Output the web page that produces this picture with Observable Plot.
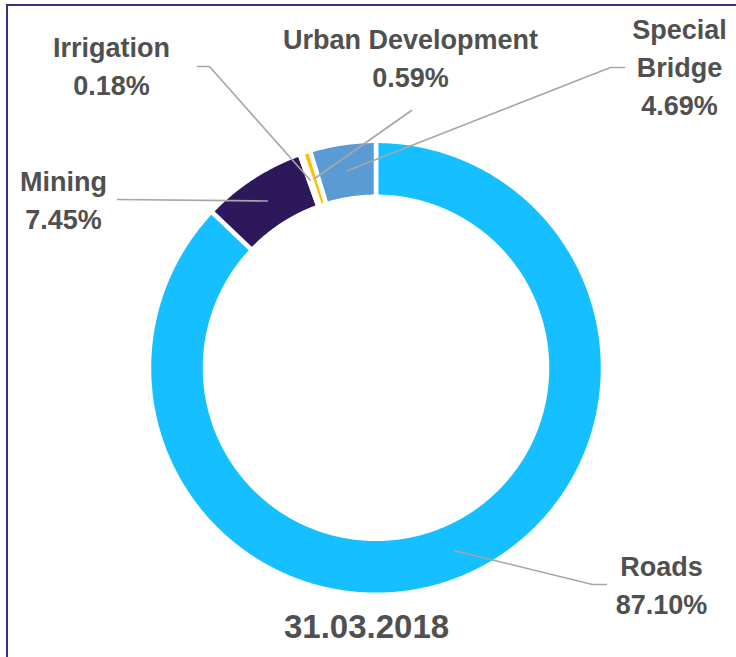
<!DOCTYPE html>
<html>
<head>
<meta charset="utf-8">
<script src="https://cdn.jsdelivr.net/npm/d3@7"></script>
<script src="https://cdn.jsdelivr.net/npm/@observablehq/plot@0.6"></script>
<style>
  html, body { margin: 0; padding: 0; background: #ffffff; }
  #wrap { position: relative; width: 736px; height: 657px; overflow: hidden; }
  #frame { position: absolute; left: 6px; top: 4px; width: 900px; height: 900px;
           border-left: 2px solid #3F2D86; border-top: 2px solid #3F2D86; pointer-events: none; }
  svg { display: block; }
</style>
</head>
<body>
<div id="wrap"><div id="frame"></div></div>
<script>
// ---- data ----
const categories = ["Roads", "Mining", "Irrigation", "Urban Development", "Special Bridge"];
const shares = [87.10, 7.45, 0.18, 0.59, 4.69];
const labelNames = ["Roads", "Mining", "Irrigation", "Urban Development", "Special\nBridge"];
const dateLabel = "31.03.2018";

// ---- styles ----
const sliceColors = ["#16BFFF", "#2E185C", "#FFFFFF", "#FFC000", "#5B9BD5"];
const textColor = "#505050";
const leaderColor = "#A6A6A6";

// ---- layout (pixel space) ----
const W = 736, H = 657;
const layout = {
  cx: 375.5, cy: 367.3, R: 227, r: 171, leaderR: 199,
  labels: {
    "Roads": [661, 582],
    "Mining": [63, 197],
    "Irrigation": [111, 63],
    "Urban Development": [410, 55],
    "Special Bridge": [679, 64]
  },
  leaders: {
    "Roads": [[606, 584], [592, 584]],
    "Mining": [[117, 199]],
    "Irrigation": [[197, 66], [209, 66]],
    "Urban Development": [[411, 110]],
    "Special Bridge": [[624, 67], [610, 67]]
  },
  date: [366, 627]
};

const total = d3.sum(shares);
const pt = (a, rad) => ({x: layout.cx + rad * Math.sin(a), y: layout.cy - rad * Math.cos(a)});

let acc = 0;
const slices = categories.map((name, i) => {
  const a0 = acc / total * 2 * Math.PI;
  acc += shares[i];
  const a1 = acc / total * 2 * Math.PI;
  return {name, a0, a1, value: shares[i], i};
});

// ring polygons built from the slice angles
const ringPts = [];
for (const s of slices) {
  const n = Math.max(2, Math.ceil((s.a1 - s.a0) / (Math.PI / 720)));
  const poly = [];
  for (let k = 0; k <= n; k++) poly.push(pt(s.a0 + (s.a1 - s.a0) * k / n, layout.R));
  for (let k = n; k >= 0; k--) poly.push(pt(s.a0 + (s.a1 - s.a0) * k / n, layout.r));
  poly.push(poly[0]);
  for (const p of poly) ringPts.push({name: s.name, x: p.x, y: p.y});
}

// leader lines: from label side to the slice's mid-angle
const leaderPts = [];
for (const s of slices) {
  for (const [x, y] of layout.leaders[s.name]) leaderPts.push({name: s.name, x, y});
  const m = pt((s.a0 + s.a1) / 2, layout.leaderR);
  leaderPts.push({name: s.name, x: m.x, y: m.y});
}

const labelRows = slices.map(s => ({
  name: s.name,
  x: layout.labels[s.name][0],
  y: layout.labels[s.name][1],
  text: labelNames[s.i] + "\n" + s.value.toFixed(2) + "%"
}));

const chart = Plot.plot({
  width: W,
  height: H,
  margin: 0,
  x: {domain: [0, W], range: [0, W], axis: null},
  y: {domain: [0, H], range: [0, H], axis: null},
  color: {domain: categories, range: sliceColors},
  style: {fontFamily: "'Liberation Sans', Arial, sans-serif", background: "transparent", overflow: "visible"},
  marks: [
    Plot.line(ringPts, {x: "x", y: "y", z: "name", fill: "name", stroke: "white", strokeWidth: 4.5, strokeLinejoin: "miter", curve: "linear"}),
    Plot.line(leaderPts, {x: "x", y: "y", z: "name", stroke: leaderColor, strokeWidth: 1.6}),
    Plot.text(labelRows, {x: "x", y: "y", text: "text", fontSize: 27, fontWeight: "bold", fill: textColor, lineHeight: 38 / 27, textAnchor: "middle"}),
    Plot.text([dateLabel], {x: () => layout.date[0], y: () => layout.date[1], text: d => d, fontSize: 33, fontWeight: "bold", fill: textColor, textAnchor: "middle"})
  ]
});

document.getElementById("wrap").insertBefore(chart, document.getElementById("frame"));
</script>
</body>
</html>
